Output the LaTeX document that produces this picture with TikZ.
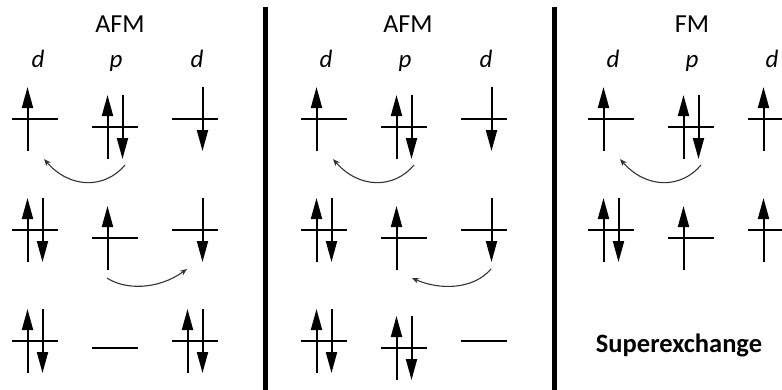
\documentclass[tikz,border=0pt]{standalone}
\usepackage{fontspec}
\setmainfont{Carlito}
\usetikzlibrary{arrows.meta}
\newcommand\lvl[3]{\coordinate (#1) at (#2,#3); \draw[levelline] ([xshift=-23pt]#1) -- ([xshift=23pt]#1);}
\newcommand\spu[1]{\draw[spin] ([xshift=-7.5pt,yshift=-32pt]#1) -- ([xshift=-7.5pt,yshift=32pt]#1);}
\newcommand\spd[1]{\draw[spin] ([xshift=7.5pt,yshift=32pt]#1) -- ([xshift=7.5pt,yshift=-32pt]#1);}
\begin{document}
\begin{tikzpicture}[x=1pt,y=-1pt,
  levelline/.style={line width=2pt},
  spin/.style={line width=2pt,-{Triangle[length=21pt,width=11pt]}},
  hop/.style={line width=1.1pt,draw=black!80,-{Stealth[length=7pt,width=5.5pt]}},
  title/.style={font=\fontsize{26}{30}\selectfont,anchor=base,inner sep=0pt},
  orb/.style={font=\fontsize{25}{29}\selectfont\itshape,anchor=base,inner sep=0pt},
  sepline/.style={line width=5pt}]
\clip (0,0) rectangle (782,389);
\fill[white] (0,0) rectangle (782,389);
% separators
\coordinate (s1t) at (265,7); \coordinate (s1b) at (265,395);
\coordinate (s2t) at (554,7); \coordinate (s2b) at (554,395);
\draw[sepline] (s1t) -- (s1b);
\draw[sepline] (s2t) -- (s2b);
% ---------- panel 1
\begin{scope}
\node[title] (t1) at (120,32) {AFM};
\node[orb] (a-dl) at (38,67) {d};
\node[orb] (a-p) at (116,67) {p};
\node[orb] (a-dr) at (197,67) {d};
\lvl{a1l}{35}{119} \spu{a1l}
\lvl{a1m}{115}{127} \spu{a1m} \spd{a1m}
\lvl{a1r}{195}{119} \spd{a1r}
\lvl{a2l}{35}{230} \spu{a2l} \spd{a2l}
\lvl{a2m}{115}{238} \spu{a2m}
\lvl{a2r}{195}{230} \spd{a2r}
\lvl{a3l}{35}{341} \spu{a3l} \spd{a3l}
\lvl{a3m}{115}{348}
\lvl{a3r}{195}{341} \spu{a3r} \spd{a3r}
\draw[hop] ([shift={(10,38)}]a1m) .. controls ([shift={(-10,62)}]a1m) and ([shift={(35,70)}]a1l) .. ([shift={(9,40)}]a1l);
\draw[hop] ([shift={(-8,40)}]a2m) .. controls ([shift={(10,52)}]a2m) and ([shift={(-37,60)}]a2r) .. ([shift={(-8,39)}]a2r);
\end{scope}
% ---------- panel 2
\begin{scope}[xshift=289pt]
\node[title] (t2) at (119,32) {AFM};
\node[orb] (b-dl) at (37,67) {d};
\node[orb] (b-p) at (116,67) {p};
\node[orb] (b-dr) at (197,67) {d};
\lvl{b1l}{35}{119} \spu{b1l}
\lvl{b1m}{115}{127} \spu{b1m} \spd{b1m}
\lvl{b1r}{195}{119} \spd{b1r}
\lvl{b2l}{35}{230} \spu{b2l} \spd{b2l}
\lvl{b2m}{115}{238} \spu{b2m}
\lvl{b2r}{195}{230} \spd{b2r}
\lvl{b3l}{35}{341} \spu{b3l} \spd{b3l}
\lvl{b3m}{115}{348} \spu{b3m} \spd{b3m}
\lvl{b3r}{195}{341}
\draw[hop] ([shift={(10,38)}]b1m) .. controls ([shift={(-10,62)}]b1m) and ([shift={(35,70)}]b1l) .. ([shift={(9,40)}]b1l);
\draw[hop] ([shift={(7,39)}]b2r) .. controls ([shift={(-11,60)}]b2r) and ([shift={(35,52)}]b2m) .. ([shift={(8,40)}]b2m);
\end{scope}
% ---------- panel 3
\begin{scope}[xshift=576pt]
\node[title] (t3) at (116,32) {FM};
\node[orb] (c-dl) at (37,67) {d};
\node[orb] (c-p) at (116,67) {p};
\node[orb] (c-dr) at (196,67) {d};
\lvl{c1l}{35}{119} \spu{c1l}
\lvl{c1m}{115}{127} \spu{c1m} \spd{c1m}
\lvl{c1r}{195}{119} \spu{c1r}
\lvl{c2l}{35}{230} \spu{c2l} \spd{c2l}
\lvl{c2m}{115}{238} \spu{c2m}
\lvl{c2r}{195}{230} \spu{c2r}
\draw[hop] ([shift={(10,38)}]c1m) .. controls ([shift={(-10,62)}]c1m) and ([shift={(35,70)}]c1l) .. ([shift={(9,40)}]c1l);
\node[font=\fontsize{26.5}{30}\selectfont\bfseries,anchor=base,inner sep=0pt] (sx) at (103,352) {Superexchange};
\end{scope}
\end{tikzpicture}
\end{document}
